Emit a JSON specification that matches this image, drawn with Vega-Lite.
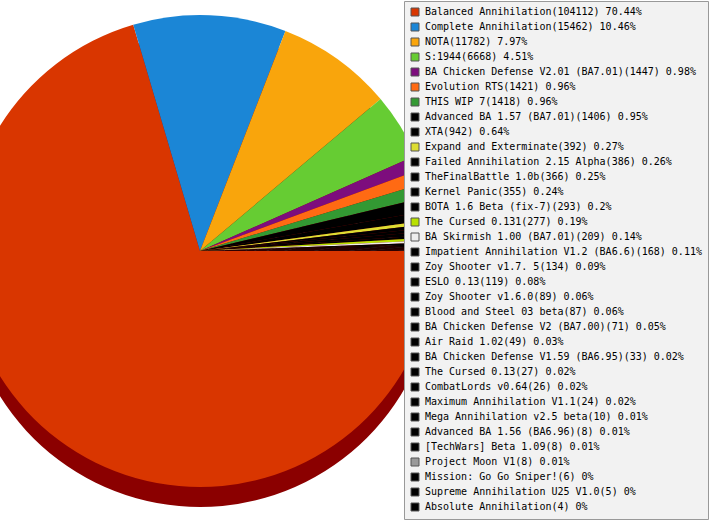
{
  "$schema": "https://vega.github.io/schema/vega-lite/v6.json",
  "width": 400,
  "height": 502,
  "autosize": {"type": "none"},
  "padding": {"left": 0, "top": 0, "right": 313, "bottom": 18},
  "background": "white",
  "view": {"stroke": null},
  "data": {
    "values": [
      {"name": "Balanced Annihilation", "count": 104112, "pct": "70.44"},
      {"name": "Complete Annihilation", "count": 15462, "pct": "10.46"},
      {"name": "NOTA", "count": 11782, "pct": "7.97"},
      {"name": "S:1944", "count": 6668, "pct": "4.51"},
      {"name": "BA Chicken Defense V2.01 (BA7.01)", "count": 1447, "pct": "0.98"},
      {"name": "Evolution RTS", "count": 1421, "pct": "0.96"},
      {"name": "THIS WIP 7", "count": 1418, "pct": "0.96"},
      {"name": "Advanced BA 1.57 (BA7.01)", "count": 1406, "pct": "0.95"},
      {"name": "XTA", "count": 942, "pct": "0.64"},
      {"name": "Expand and Exterminate", "count": 392, "pct": "0.27"},
      {"name": "Failed Annihilation 2.15  Alpha", "count": 386, "pct": "0.26"},
      {"name": "TheFinalBattle 1.0b", "count": 366, "pct": "0.25"},
      {"name": "Kernel Panic", "count": 355, "pct": "0.24"},
      {"name": "BOTA 1.6 Beta (fix-7)", "count": 293, "pct": "0.2"},
      {"name": "The Cursed 0.131", "count": 277, "pct": "0.19"},
      {"name": "BA Skirmish 1.00 (BA7.01)", "count": 209, "pct": "0.14"},
      {"name": "Impatient Annihilation V1.2 (BA6.6)", "count": 168, "pct": "0.11"},
      {"name": "Zoy Shooter v1.7. 5", "count": 134, "pct": "0.09"},
      {"name": "ESLO 0.13", "count": 119, "pct": "0.08"},
      {"name": "Zoy Shooter v1.6.0", "count": 89, "pct": "0.06"},
      {"name": "Blood and Steel 03 beta", "count": 87, "pct": "0.06"},
      {"name": "BA Chicken Defense V2 (BA7.00)", "count": 71, "pct": "0.05"},
      {"name": "Air Raid 1.02", "count": 49, "pct": "0.03"},
      {"name": "BA Chicken Defense V1.59 (BA6.95)", "count": 33, "pct": "0.02"},
      {"name": "The Cursed 0.13", "count": 27, "pct": "0.02"},
      {"name": "CombatLords v0.64", "count": 26, "pct": "0.02"},
      {"name": "Maximum Annihilation V1.1", "count": 24, "pct": "0.02"},
      {"name": "Mega Annihilation v2.5 beta", "count": 10, "pct": "0.01"},
      {"name": "Advanced BA 1.56 (BA6.96)", "count": 8, "pct": "0.01"},
      {"name": "[TechWars] Beta 1.09", "count": 8, "pct": "0.01"},
      {"name": "Project Moon V1", "count": 8, "pct": "0.01"},
      {"name": "Mission: Go Go Sniper!", "count": 6, "pct": "0"},
      {"name": "Supreme Annihilation U25 V1.0", "count": 5, "pct": "0"},
      {"name": "Absolute Annihilation", "count": 4, "pct": "0"}
    ]
  },
  "transform": [
    {"window": [{"op": "row_number", "as": "idx"}]},
    {"calculate": "datum.name + '(' + datum.count + ') ' + datum.pct + '%'", "as": "label"}
  ],
  "encoding": {
    "theta": {
      "field": "count",
      "type": "quantitative",
      "stack": true,
      "scale": {"range": [1.5707963, 7.8539816]}
    },
    "order": {"field": "idx", "type": "quantitative"}
  },
  "layer": [
    {
      "mark": {"type": "arc", "outerRadius": 236, "yOffset": 20, "color": "#8b0000"}
    },
    {
      "mark": {"type": "arc", "outerRadius": 236},
      "encoding": {
        "color": {
          "field": "label",
          "type": "nominal",
          "sort": {"field": "idx", "op": "min"},
          "scale": {
            "range": [
              "#d93600", "#1b86d6", "#f9a50c", "#66cc33", "#7d0d7d", "#ff6a13",
              "#339933", "#000000", "#000000", "#dddd33", "#000000", "#000000",
              "#000000", "#000000", "#b8e000", "#eeeeee", "#000000", "#000000",
              "#000000", "#000000", "#000000", "#000000", "#000000", "#000000",
              "#000000", "#000000", "#000000", "#000000", "#000000", "#000000",
              "#999999", "#000000", "#000000", "#000000"
            ]
          },
          "legend": {
            "title": null,
            "orient": "none",
            "legendX": 404,
            "legendY": 1,
            "zindex": 1,
            "symbolType": "square",
            "symbolSize": 64,
            "symbolLimit": 50,
            "labelFont": "DejaVu Sans Mono",
            "labelFontSize": 10,
            "labelColor": "#000000",
            "labelLimit": 320,
            "labelOffset": 5,
            "rowPadding": 3,
            "padding": 6,
            "fillColor": "#f2f2f2",
            "strokeColor": "#999999",
            "encode": {
              "symbols": {
                "update": {
                  "stroke": {"value": "#555555"},
                  "strokeWidth": {"value": 1}
                }
              }
            }
          }
        }
      }
    }
  ]
}
